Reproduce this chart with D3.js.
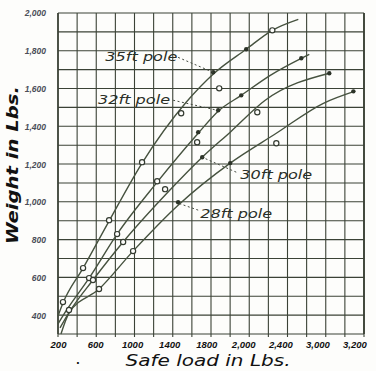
<!DOCTYPE html>
<html><head><meta charset="utf-8">
<script src="https://cdn.jsdelivr.net/npm/d3@7"></script>
<style>html,body{margin:0;padding:0;background:#fff;}svg{display:block;}</style>
</head><body>
<script>
// ---- data ----
const load35 = [200, 252, 462, 734, 1079, 1540, 1833, 2168, 2441, 2713];
const wt35   = [395, 464, 649, 898, 1205, 1527, 1681, 1808, 1908, 1966];
const load32 = [200, 284, 525, 818, 1237, 1666, 1875, 2116, 2420, 2744, 2828];
const wt32   = [353, 422, 596, 829, 1104, 1363, 1480, 1564, 1670, 1760, 1781];
const load30 = [221, 326, 566, 881, 1331, 1708, 2001, 2367, 3037];
const wt30   = [332, 422, 586, 787, 1041, 1236, 1369, 1538, 1681];
const load28 = [231, 315, 629, 985, 1456, 2001, 2483, 2975, 3299];
const wt28   = [300, 411, 538, 739, 982, 1205, 1363, 1522, 1585];

const openLoad = [252, 315, 462, 525, 566, 629, 734, 818, 881, 985, 1079, 1237, 1320, 1488, 1655, 1886, 2284, 2483, 2441];
const openWt   = [469, 427, 649, 596, 586, 538, 903, 829, 787, 739, 1210, 1109, 1067, 1469, 1316, 1601, 1474, 1310, 1908];
const fillLoad = [1666, 1875, 2116, 2168, 1823, 2744, 3037, 3289, 1708, 2001, 1456];
const fillWt   = [1369, 1485, 1564, 1808, 1686, 1760, 1681, 1585, 1236, 1205, 998];

const poleNames = ["35ft pole", "32ft pole", "30ft pole", "28ft pole"];
const labelLoad = [695, 619, 2106, 1687];
const labelWt   = [1765, 1538, 1141, 935];
const leadFromLoad = [1456, 1404, 2064, 1666];
const leadFromWt   = [1765, 1538, 1157, 956];
const leadToLoad   = [1823, 1865, 1708, 1456];
const leadToWt     = [1686, 1485, 1236, 993];

const xTickValues = [200, 600, 1000, 1400, 1800, 2200, 2600, 3000, 3400];
const xTickLabels = ["200", "600", "1000", "1400", "1800", "2,000", "2,400", "3,000", "3,200"];
const yTickValues = [400, 600, 800, 1000, 1200, 1400, 1600, 1800, 2000];
const yTickLabels = ["400", "600", "800", "1,000", "1,200", "1,400", "1,600", "1,800", "2,000"];

// ---- layout ----
const W = 376, H = 371;
const m = {left: 58, right: 12, top: 13, bottom: 37};
const svg = d3.select("body").append("svg").attr("width", W).attr("height", H);
svg.append("rect").attr("width", W).attr("height", H).attr("fill", "#fdfdfb");

const x = d3.scaleLinear().domain([200, 3400]).range([m.left, W - m.right]);
const y = d3.scaleLinear().domain([300, 2000]).range([H - m.bottom, m.top]);

const gridColor = "#3b4236";
// grid
const g = svg.append("g");
g.selectAll("line.v").data(d3.range(200, 3401, 200)).enter().append("line")
  .attr("x1", d => x(d)).attr("x2", d => x(d))
  .attr("y1", y(2000)).attr("y2", y(300) + 3)
  .attr("stroke", gridColor).attr("stroke-width", 1.1);
g.selectAll("line.h").data(d3.range(300, 2001, 100)).enter().append("line")
  .attr("x1", x(200)).attr("x2", x(3400))
  .attr("y1", d => y(d)).attr("y2", d => y(d))
  .attr("stroke", gridColor).attr("stroke-width", 1.1);
svg.append("line").attr("x1", x(3400)).attr("x2", x(3400)).attr("y1", y(2000)).attr("y2", y(300))
  .attr("stroke", gridColor).attr("stroke-width", 1.8);
svg.append("line").attr("x1", x(200)).attr("x2", x(200)).attr("y1", y(2000)).attr("y2", y(300))
  .attr("stroke", gridColor).attr("stroke-width", 1.6);

// axes tick labels
const xa = d3.axisBottom(x).tickValues(xTickValues).tickSize(0)
  .tickFormat((d, i) => xTickLabels[i]);
const xg = svg.append("g").attr("transform", `translate(0,${y(300)})`).call(xa);
xg.select(".domain").remove();
xg.selectAll("text").attr("dy", 0).attr("y", 14)
  .attr("font-family", "Liberation Sans, Arial, sans-serif").attr("font-weight", "bold")
  .attr("font-style", "italic").attr("font-size", 9.5).attr("fill", "#111")
  .attr("dx", (d, i) => -i * 1.2);

const ya = d3.axisLeft(y).tickValues(yTickValues).tickSize(0)
  .tickFormat((d, i) => yTickLabels[i]);
const yg = svg.append("g").attr("transform", `translate(${m.left - 12},0)`).call(ya);
yg.select(".domain").remove();
yg.selectAll("text").attr("x", 0).attr("dy", "0.35em")
  .attr("font-family", "Liberation Sans, Arial, sans-serif").attr("font-weight", "bold")
  .attr("font-style", "italic").attr("font-size", 8.5).attr("fill", "#4a4e58");

// curves
const curveColor = "#46523f";
const line = d3.line().x(d => x(d[0])).y(d => y(d[1])).curve(d3.curveMonotoneX);
[[load35, wt35], [load32, wt32], [load30, wt30], [load28, wt28]].forEach(([ls, ws]) => {
  svg.append("path").datum(ls.map((l, i) => [l, ws[i]]))
    .attr("d", line).attr("fill", "none").attr("stroke", curveColor).attr("stroke-width", 1.4);
});

// markers
svg.selectAll("circle.o").data(openLoad.map((l, i) => [l, openWt[i]])).enter().append("circle")
  .attr("cx", d => x(d[0])).attr("cy", d => y(d[1])).attr("r", 2.6)
  .attr("fill", "#fdfdfb").attr("stroke", "#333a30").attr("stroke-width", 1.2);
svg.selectAll("circle.f").data(fillLoad.map((l, i) => [l, fillWt[i]])).enter().append("circle")
  .attr("cx", d => x(d[0])).attr("cy", d => y(d[1])).attr("r", 2.2)
  .attr("fill", "#2c3328");

// pole labels + leaders
poleNames.forEach((name, i) => {
  svg.append("line")
    .attr("x1", x(leadFromLoad[i])).attr("y1", y(leadFromWt[i]))
    .attr("x2", x(leadToLoad[i])).attr("y2", y(leadToWt[i]))
    .attr("stroke", "#444a40").attr("stroke-width", 1).attr("stroke-dasharray", "2,2.5");
  svg.append("rect")
    .attr("x", x(labelLoad[i]) - 1).attr("y", y(labelWt[i]) - 10)
    .attr("width", 74).attr("height", 13).attr("fill", "#fdfdfb").attr("opacity", 0.0);
  svg.append("text").attr("x", x(labelLoad[i])).attr("y", y(labelWt[i]) + 4)
    .attr("font-family", "DejaVu Sans, sans-serif").attr("font-style", "italic")
    .attr("font-size", 12.5).attr("fill", "#2a2f27")
    .attr("textLength", 72).attr("lengthAdjust", "spacingAndGlyphs")
    .text(name);
});

// axis titles
svg.append("text").attr("x", 208).attr("y", 366).attr("text-anchor", "middle")
  .attr("font-family", "DejaVu Sans, sans-serif").attr("font-style", "italic")
  .attr("font-size", 16).attr("fill", "#111")
  .attr("textLength", 165).attr("lengthAdjust", "spacingAndGlyphs")
  .text("Safe load in Lbs.");
svg.append("text").attr("x", 78).attr("y", 364).attr("text-anchor", "middle")
  .attr("font-family", "DejaVu Sans, sans-serif").attr("font-weight", "bold")
  .attr("font-size", 10).attr("fill", "#111").text(".");
svg.append("text").attr("transform", "translate(18,165) rotate(-90)").attr("text-anchor", "middle")
  .attr("font-family", "DejaVu Sans, sans-serif").attr("font-weight", "bold").attr("font-style", "italic")
  .attr("font-size", 15).attr("fill", "#111")
  .attr("textLength", 158).attr("lengthAdjust", "spacingAndGlyphs")
  .text("Weight in Lbs.");
</script>
</body></html>
